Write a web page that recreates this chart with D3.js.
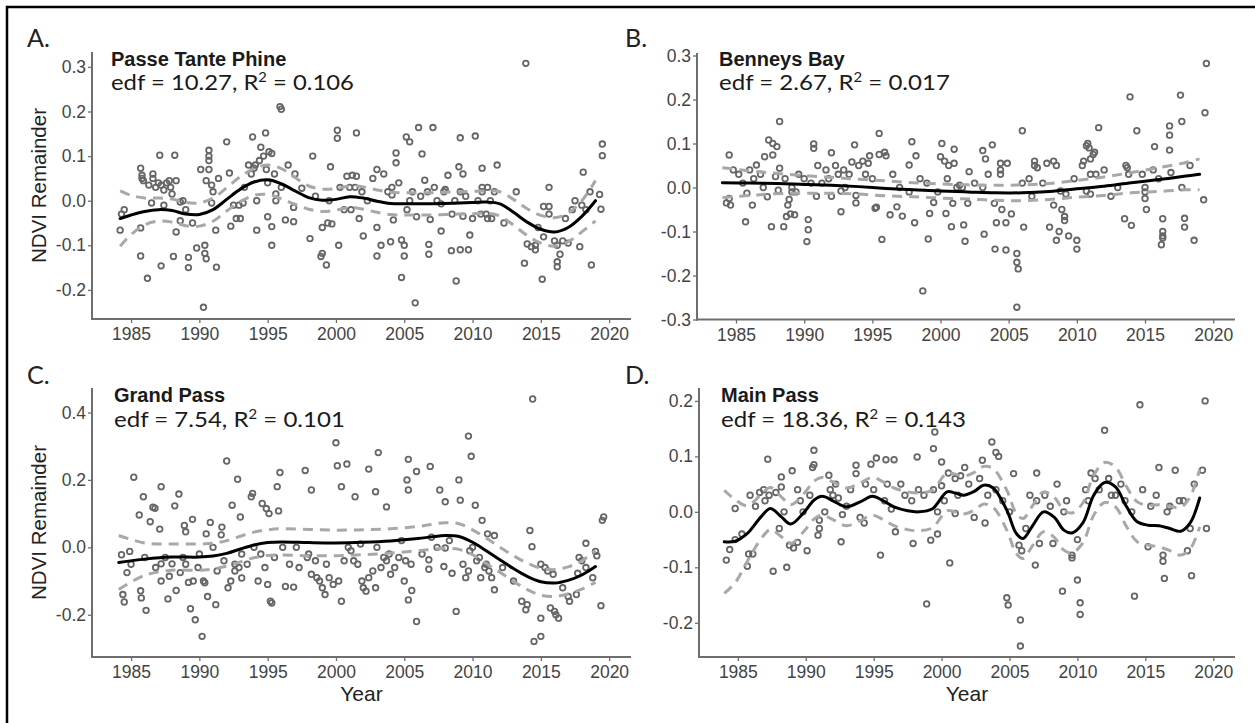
<!DOCTYPE html>
<html>
<head>
<meta charset="utf-8">
<script src="https://cdn.jsdelivr.net/npm/d3@7"></script>
<style>
  html, body { margin: 0; padding: 0; background: #fff; }
  svg { display: block; }
</style>
</head>
<body>
<svg id="chart" width="1255" height="723"></svg>
<script>
// ---------- data ----------
const xTickYears = [1985, 1990, 1995, 2000, 2005, 2010, 2015, 2020];
const panelLetters = ["A.", "B.", "C.", "D."];
const siteNames = ["Passe Tante Phine", "Benneys Bay", "Grand Pass", "Main Pass"];
const edfValues = ["10.27", "2.67", "7.54", "18.36"];
const r2Values = ["0.106", "0.017", "0.101", "0.143"];
const yTicksA = [-0.2, -0.1, 0.0, 0.1, 0.2, 0.3];
const yTicksB = [-0.3, -0.2, -0.1, 0.0, 0.1, 0.2, 0.3];
const yTicksC = [-0.2, 0.0, 0.2, 0.4];
const yTicksD = [-0.2, -0.1, 0.0, 0.1, 0.2];

// Passe Tante Phine: residual NDVI observations [year, value]
const pointsA = [
  [1984.2,-0.066],[1984.5,-0.02],[1984.3,-0.03],[1985.7,0.073],[1985.8,0.057],[1985.7,-0.061],[1985.7,-0.124],
  [1986.2,-0.174],[1985.8,0.05],[1986.6,0.06],[1986.5,-0.005],[1986.6,0.05],[1987.0,0.04],[1987.1,0.102],
  [1987.2,-0.146],[1987.4,-0.01],[1987.4,0.024],[1987.6,0.04],[1987.9,0.03],[1988.1,-0.125],[1988.2,0.102],
  [1988.3,-0.07],[1988.3,0.045],[1988.6,-0.003],[1988.6,-0.045],[1989.2,-0.15],[1989.2,-0.127],[1989.5,-0.05],
  [1989.8,-0.106],[1990.1,0.07],[1990.3,-0.239],[1990.4,-0.1],[1990.4,-0.118],[1990.5,-0.13],[1990.7,0.113],
  [1990.7,0.1],[1990.7,0.09],[1990.7,0.07],[1990.9,-0.005],[1991.2,-0.066],[1991.25,-0.149],[1992.0,0.132],
  [1992.2,0.062],[1992.3,-0.057],[1992.7,-0.04],[1992.9,-0.01],[1993.0,-0.04],[1993.6,0.08],[1993.9,0.143],
  [1994.0,0.073],[1994.2,-0.066],[1994.2,0.0],[1994.5,0.12],[1994.7,0.1],[1994.85,0.152],[1995.0,-0.036],
  [1995.1,0.11],[1995.3,0.106],[1995.3,-0.058],[1995.3,-0.1],[1995.6,0.0],[1995.6,0.015],[1995.9,0.211],
  [1996.0,0.205],[1996.3,-0.043],[1996.5,0.08],[1996.9,-0.047],[1996.9,-0.015],[1997.5,0.028],[1998.1,-0.085],
  [1998.3,0.1],[1998.9,-0.125],[1999.0,-0.118],[1999.3,-0.144],[1999.0,-0.06],[1999.4,-0.05],[1999.6,0.076],
  [1999.7,-0.052],[2000.1,0.158],[2000.1,0.14],[2000.2,-0.1],[2000.6,-0.02],[2000.8,0.055],[2001.0,0.03],
  [2001.1,-0.02],[2001.2,0.057],[2001.5,0.152],[2001.5,0.055],[2001.4,0.03],[2001.7,-0.04],[2002.0,-0.079],
  [2003.0,0.07],[2003.0,-0.06],[2003.0,-0.124],[2003.3,-0.1],[2003.5,0.06],[2004.0,-0.092],[2004.1,0.03],
  [2004.1,0.013],[2004.2,-0.043],[2004.4,0.107],[2004.4,0.085],[2004.8,-0.088],[2004.8,-0.172],[2005.0,-0.1],
  [2005.0,-0.124],[2005.15,0.143],[2005.4,0.132],[2005.4,0.0],[2005.2,-0.02],[2005.8,-0.229],[2005.9,-0.036],
  [2006.05,0.164],[2006.3,0.105],[2006.5,0.046],[2006.8,-0.098],[2006.8,-0.12],[2006.9,-0.042],[2007.1,0.164],
  [2007.2,0.03],[2007.7,-0.007],[2007.7,-0.068],[2008.2,0.057],[2008.0,0.025],[2008.45,-0.112],[2008.5,-0.03],
  [2008.8,-0.18],[2009.0,0.076],[2009.1,0.141],[2009.1,0.02],[2009.1,-0.11],[2009.3,0.06],[2009.3,-0.035],
  [2009.7,-0.11],[2009.8,-0.077],[2010.0,-0.04],[2010.2,0.145],[2010.7,0.073],[2010.7,0.03],[2010.7,0.02],
  [2010.6,-0.03],[2011.0,-0.03],[2011.1,0.03],[2011.1,-0.04],[2011.4,-0.04],[2011.8,0.08],[2013.8,-0.14],
  [2013.9,0.308],[2014.0,-0.097],[2014.3,-0.103],[2014.6,-0.1],[2014.6,-0.11],[2015.1,-0.176],[2015.2,-0.081],
  [2015.2,-0.013],[2015.6,0.03],[2015.6,-0.013],[2015.6,-0.03],[2016.0,-0.09],[2016.2,-0.1],[2016.2,-0.137],
  [2016.2,-0.148],[2016.4,-0.12],[2016.6,-0.09],[2017.0,-0.095],[2017.5,0.0],[2017.85,-0.103],[2018.0,-0.01],
  [2018.1,0.064],[2018.3,-0.02],[2018.7,-0.144],[2019.3,0.014],[2019.4,-0.019],[2019.5,0.127],[2019.5,0.101],
  [1985.9,0.045],[1986.3,0.035],[1986.8,0.03],[1987.2,0.035],[1987.8,0.045],[1988.0,0.015],[1988.8,0.0],
  [1989.0,-0.02],[1990.5,0.045],[1990.9,0.035],[1991.4,0.05],[1991.0,0.02],[1992.5,-0.01],[1993.2,-0.005],
  [1993.3,0.03],[1993.8,0.06],[1994.1,0.08],[1994.4,0.09],[1994.9,0.07],[1995.0,0.04],[1995.5,0.06],
  [1996.0,0.03],[1997.0,0.06],[1998.5,0.01],[1999.5,0.0],[2000.3,0.03],[2001.9,0.02],[2002.3,0.0],
  [2002.7,0.05],[2003.8,0.02],[2004.6,0.04],[2005.6,0.02],[2006.2,0.01],[2006.7,0.02],[2007.4,0.0],
  [2007.9,0.02],[2008.7,0.0],[2009.5,0.01],[2010.4,0.0],[2011.3,0.0],[2011.6,0.02],[2012.3,-0.05],
  [2013.2,0.02],[2014.8,-0.06],[2016.8,-0.04],[2017.3,-0.02],[2018.6,0.02]
];
const fitYearsA = [1984.2,1985,1986,1987,1988,1989,1990,1991,1992,1993,1994,1995,1996,1997,1998,1999,2000,2001,
  2002,2003,2004,2005,2006,2007,2008,2009,2010,2011,2012,2013,2014,2015,2016,2017,2018,2019];
const fitA = [-0.040,-0.032,-0.024,-0.020,-0.022,-0.030,-0.031,-0.020,0.003,0.026,0.042,0.047,0.038,0.022,0.007,
  0.001,0.003,0.009,0.006,-0.001,-0.006,-0.007,-0.007,-0.007,-0.006,-0.005,-0.004,-0.003,-0.007,-0.026,-0.048,
  -0.064,-0.070,-0.060,-0.035,0.000];
const upperA = [0.022,0.012,0.006,0.006,0.004,-0.004,-0.005,0.006,0.029,0.054,0.072,0.08,0.072,0.052,0.033,0.026,
  0.027,0.033,0.031,0.024,0.019,0.018,0.018,0.018,0.019,0.02,0.021,0.022,0.02,0.003,-0.018,-0.033,-0.038,-0.028,
  0.0,0.045];
const lowerA = [-0.102,-0.076,-0.054,-0.046,-0.048,-0.056,-0.057,-0.046,-0.023,-0.002,0.012,0.014,0.004,-0.008,
  -0.019,-0.024,-0.021,-0.015,-0.019,-0.026,-0.031,-0.032,-0.032,-0.032,-0.031,-0.03,-0.029,-0.028,-0.034,-0.055,
  -0.078,-0.095,-0.102,-0.092,-0.07,-0.045];

// Benneys Bay
const pointsB = [
  [1984.5,0.074],[1984.5,-0.025],[1984.6,-0.04],[1984.3,-0.035],[1985.8,-0.013],[1986.2,-0.04],[1985.7,-0.078],
  [1986.0,0.04],[1986.5,0.051],[1987.1,0.07],[1987.3,-0.021],[1987.4,0.108],[1987.6,-0.089],[1987.7,0.074],
  [1987.7,0.1],[1987.9,0.025],[1988.0,0.093],[1988.1,-0.006],[1988.2,0.15],[1988.2,0.044],[1988.5,-0.089],
  [1988.7,-0.066],[1988.8,-0.04],[1988.9,-0.027],[1989.0,-0.06],[1989.1,-0.01],[1989.1,0.0],[1989.4,-0.01],
  [1989.3,-0.062],[1990.3,-0.073],[1990.3,-0.096],[1990.2,-0.123],[1990.7,0.099],[1990.7,0.089],[1990.9,-0.02],
  [1991.0,0.05],[1991.6,0.04],[1992.0,0.079],[1992.0,-0.02],[1992.3,0.05],[1992.7,-0.008],[1992.7,-0.055],
  [1992.9,0.04],[1993.5,0.058],[1993.7,0.097],[1993.8,-0.035],[1993.8,-0.018],[1994.0,0.05],[1994.3,0.06],
  [1994.7,0.055],[1994.8,0.072],[1995.2,-0.047],[1995.3,-0.045],[1995.5,0.123],[1995.5,0.075],[1995.7,-0.118],
  [1995.9,0.08],[1996.0,0.072],[1996.3,-0.062],[1996.8,-0.044],[1997.2,-0.065],[1997.7,0.051],[1997.7,-0.01],
  [1997.9,0.104],[1998.1,-0.08],[1998.2,0.072],[1998.7,-0.235],[1999.1,-0.117],[1999.2,-0.059],[1999.5,-0.034],
  [2000.0,0.07],[2000.1,0.1],[2000.3,0.06],[2000.4,-0.059],[2000.6,0.05],[2000.8,-0.089],[2000.9,-0.036],
  [2001.0,0.087],[2001.0,0.055],[2001.2,0.0],[2001.4,0.005],[2001.6,0.0],[2001.7,-0.085],[2001.8,-0.122],
  [2002.0,-0.036],[2002.1,0.036],[2003.1,0.084],[2003.1,0.0],[2003.2,-0.106],[2003.3,0.065],[2003.8,0.097],
  [2003.95,-0.036],[2004.0,-0.14],[2004.1,-0.08],[2004.4,0.03],[2004.4,0.04],[2004.4,0.055],[2004.5,-0.05],
  [2004.8,-0.08],[2004.9,0.055],[2004.8,-0.142],[2005.2,-0.06],[2005.6,-0.15],[2005.6,-0.17],[2005.7,-0.185],
  [2005.6,-0.272],[2006.0,0.129],[2006.0,0.01],[2006.1,-0.09],[2006.7,-0.02],[2006.9,0.06],[2006.9,0.05],
  [2007.1,0.045],[2007.8,0.055],[2008.0,-0.09],[2008.3,0.06],[2008.3,-0.04],[2008.5,0.05],[2008.5,-0.12],
  [2008.7,-0.1],[2008.8,-0.008],[2008.9,-0.05],[2009.1,-0.066],[2009.1,-0.075],[2009.2,-0.015],[2009.4,-0.11],
  [2010.0,-0.14],[2010.0,-0.12],[2010.4,0.05],[2010.5,0.06],[2010.7,0.095],[2010.7,-0.008],[2010.8,0.1],
  [2010.9,0.09],[2011.0,0.065],[2011.0,0.03],[2011.0,-0.015],[2011.2,0.075],[2011.3,0.08],[2011.4,0.03],
  [2011.6,0.136],[2013.5,-0.071],[2013.6,0.05],[2013.7,0.045],[2013.8,0.03],[2013.9,0.206],[2014.0,-0.086],
  [2014.4,0.129],[2015.0,0.0],[2015.0,-0.01],[2015.0,-0.025],[2015.1,-0.05],[2015.6,0.04],[2015.7,0.093],
  [2016.3,-0.071],[2016.3,-0.1],[2016.3,-0.11],[2016.3,-0.115],[2016.2,-0.13],[2016.8,0.14],[2016.8,0.119],
  [2016.8,0.085],[2016.9,0.034],[2017.6,0.21],[2017.7,0.15],[2017.7,0.0],[2017.9,-0.07],[2017.9,-0.09],
  [2018.6,-0.12],[2019.3,-0.028],[2019.4,0.17],[2019.5,0.282],
  [1984.8,0.04],[1985.2,0.03],[1985.5,0.01],[1986.3,0.02],[1986.8,0.03],[1987.0,0.0],[1988.6,0.02],
  [1989.6,0.03],[1990.0,0.02],[1990.5,0.01],[1991.3,0.01],[1991.8,0.02],[1992.5,0.03],[1993.0,0.0],
  [1993.3,0.03],[1994.5,0.03],[1995.0,0.02],[1996.5,0.03],[1997.0,0.0],[1998.5,0.02],[1999.0,0.01],
  [1999.8,-0.01],[2000.5,0.02],[2002.5,0.01],[2003.5,0.03],[2006.5,0.02],[2007.5,0.01],[2009.8,0.02],
  [2012.0,0.04],[2012.5,-0.02],[2013.0,0.0],[2014.8,0.03],[2016.0,0.02],[2018.3,0.05]
];
const fitYearsB = [1984,1986,1988,1990,1992,1994,1996,1998,2000,2002,2004,2006,2008,2010,2012,2014,2016,2018,2019];
const fitB = [0.011,0.010,0.009,0.007,0.005,0.002,-0.002,-0.005,-0.008,-0.010,-0.012,-0.012,-0.009,-0.003,0.003,
  0.011,0.018,0.026,0.03];
const upperB = [0.045,0.038,0.032,0.027,0.023,0.019,0.015,0.011,0.008,0.006,0.005,0.006,0.009,0.016,0.024,0.034,
  0.045,0.057,0.065];
const lowerB = [-0.023,-0.018,-0.014,-0.013,-0.013,-0.015,-0.019,-0.021,-0.024,-0.026,-0.029,-0.03,-0.027,-0.022,
  -0.018,-0.012,-0.009,-0.005,-0.005];

// Grand Pass
const pointsC = [
  [1984.3,-0.022],[1984.9,-0.012],[1984.4,-0.14],[1984.5,-0.162],[1984.7,-0.075],[1985.2,0.208],[1985.6,0.096],
  [1985.7,-0.129],[1985.75,-0.15],[1986.1,-0.187],[1985.9,0.15],[1986.4,0.076],[1986.6,0.119],[1986.75,0.116],
  [1987.1,0.054],[1987.2,0.18],[1987.2,-0.049],[1987.2,-0.1],[1987.7,-0.153],[1987.8,-0.086],[1988.0,-0.049],
  [1988.2,0.123],[1988.3,-0.128],[1988.5,0.158],[1988.6,-0.075],[1988.9,0.065],[1989.0,0.046],[1989.0,-0.05],
  [1989.2,-0.104],[1989.5,0.083],[1989.55,-0.1],[1989.35,-0.182],[1989.7,-0.215],[1989.9,-0.06],[1990.2,-0.264],
  [1990.3,-0.1],[1990.4,-0.105],[1990.5,0.04],[1990.6,-0.146],[1990.8,0.074],[1991.2,-0.17],[1991.3,-0.07],
  [1991.6,0.037],[1991.65,0.06],[1992.0,0.256],[1992.1,-0.12],[1992.3,-0.1],[1992.4,0.125],[1992.6,-0.07],
  [1992.6,-0.05],[1992.8,0.202],[1993.0,0.09],[1993.1,-0.091],[1993.1,-0.02],[1993.8,0.15],[1993.9,0.16],
  [1994.3,-0.1],[1994.5,-0.02],[1994.6,0.13],[1994.9,0.115],[1995.0,-0.11],[1995.1,0.1],[1995.2,-0.16],
  [1995.3,-0.165],[1995.5,-0.03],[1995.7,0.18],[1995.8,0.108],[1995.9,0.222],[1996.1,0.0],[1996.3,-0.116],
  [1996.9,-0.118],[1997.1,0.0],[1997.75,0.228],[1997.9,-0.03],[1998.2,0.17],[1998.2,-0.08],[1998.5,-0.04],
  [1998.6,-0.09],[1998.8,-0.1],[1999.0,-0.12],[1999.2,-0.14],[1999.5,-0.09],[1999.8,-0.11],[2000.0,0.31],
  [2000.1,0.242],[2000.2,-0.1],[2000.4,0.18],[2000.4,-0.16],[2000.8,0.247],[2000.9,0.0],[2001.1,-0.01],
  [2001.3,-0.04],[2001.4,0.15],[2001.6,-0.05],[2001.9,-0.1],[2002.0,-0.12],[2002.2,-0.13],[2002.4,0.232],
  [2002.4,-0.09],[2002.7,-0.07],[2002.9,0.165],[2002.9,-0.12],[2003.1,0.281],[2003.3,-0.06],[2003.5,-0.03],
  [2003.7,0.12],[2003.7,-0.04],[2004.0,-0.08],[2004.3,-0.06],[2004.6,-0.03],[2005.0,-0.1],[2005.1,-0.04],
  [2005.2,0.2],[2005.3,0.261],[2005.3,0.17],[2005.3,-0.156],[2005.5,-0.05],[2005.55,-0.128],[2005.9,0.225],
  [2005.9,-0.22],[2006.8,-0.037],[2006.8,-0.065],[2006.9,0.24],[2007.4,0.0],[2007.6,0.17],[2007.9,-0.057],
  [2008.0,-0.002],[2008.0,0.135],[2008.5,-0.077],[2008.8,-0.19],[2009.0,0.2],[2009.1,0.14],[2009.3,-0.05],
  [2009.5,-0.09],[2009.7,0.33],[2009.7,-0.07],[2009.8,-0.01],[2009.9,0.27],[2010.0,0.0],[2010.2,0.125],
  [2010.5,-0.03],[2010.6,-0.09],[2010.7,0.08],[2010.9,-0.06],[2011.0,-0.05],[2011.1,0.04],[2011.2,-0.07],
  [2011.4,-0.09],[2011.6,-0.126],[2011.6,0.035],[2013.6,-0.16],[2013.9,-0.185],[2014.0,-0.17],[2014.2,0.05],
  [2014.35,0.002],[2014.4,0.44],[2014.5,-0.279],[2015.0,-0.264],[2015.0,-0.05],[2015.0,-0.21],[2015.3,-0.06],
  [2015.5,-0.07],[2015.7,-0.18],[2015.9,-0.08],[2016.0,-0.19],[2016.1,-0.2],[2016.3,-0.21],[2017.0,-0.146],
  [2017.1,-0.16],[2017.6,-0.14],[2017.7,-0.077],[2017.8,-0.03],[2018.0,-0.04],[2018.3,-0.06],[2018.3,0.012],
  [2019.0,-0.012],[2019.1,-0.025],[2019.4,-0.173],[2019.5,0.08],[2019.6,0.09],
  [1985.0,-0.05],[1986.0,-0.03],[1986.8,-0.06],[1987.5,-0.03],[1988.8,-0.03],[1990.0,-0.02],[1991.0,0.0],
  [1991.8,-0.04],[1992.9,-0.06],[1993.5,-0.05],[1994.0,0.0],[1994.8,-0.06],[1996.6,-0.05],[1997.3,-0.06],
  [1998.0,-0.02],[1999.3,-0.05],[2000.6,-0.04],[2001.8,0.01],[2003.0,0.0],[2003.9,-0.02],[2004.8,0.02],
  [2006.3,-0.02],[2007.0,0.03],[2008.3,0.02],[2010.3,-0.04],[2012.2,-0.06],[2013.0,-0.1],[2016.6,-0.12],
  [2018.8,-0.09]
];
const fitYearsC = [1984.1,1986,1988,1990,1991,1992,1993,1994,1995,1996,1998,2000,2002,2004,2006,2007,2008,2009,
  2010,2011,2012,2013,2014,2015,2016,2017,2018,2019];
const fitC = [-0.045,-0.035,-0.029,-0.029,-0.026,-0.018,-0.005,0.007,0.014,0.016,0.014,0.013,0.015,0.019,0.026,
  0.031,0.035,0.032,0.015,-0.01,-0.037,-0.063,-0.086,-0.102,-0.106,-0.098,-0.082,-0.057];
const upperC = [0.035,0.013,0.01,0.01,0.012,0.02,0.033,0.045,0.052,0.055,0.053,0.051,0.052,0.055,0.062,0.068,
  0.073,0.07,0.052,0.028,0.0,-0.025,-0.047,-0.062,-0.066,-0.058,-0.04,-0.01];
const lowerC = [-0.125,-0.083,-0.068,-0.068,-0.064,-0.056,-0.043,-0.031,-0.024,-0.023,-0.025,-0.025,-0.022,-0.017,
  -0.01,-0.006,-0.003,-0.006,-0.022,-0.048,-0.074,-0.101,-0.125,-0.142,-0.146,-0.138,-0.124,-0.104];

// Main Pass
const pointsD = [
  [1984.15,-0.087],[1984.4,-0.068],[1984.8,0.006],[1984.8,-0.05],[1985.7,-0.098],[1985.8,-0.076],[1986.1,-0.076],
  [1985.9,0.03],[1986.6,0.035],[1986.9,0.04],[1987.2,0.095],[1987.3,0.03],[1987.6,-0.107],[1987.8,0.035],
  [1988.05,-0.03],[1988.2,0.063],[1988.2,0.045],[1988.6,-0.1],[1988.8,-0.06],[1989.0,0.074],[1989.1,-0.065],
  [1989.4,-0.055],[1989.4,0.04],[1989.8,0.0],[1990.1,-0.07],[1990.5,0.08],[1990.6,0.111],[1990.6,0.085],
  [1990.9,-0.042],[1991.0,-0.015],[1991.0,-0.03],[1991.4,0.0],[1991.7,0.066],[1992.0,0.03],[1992.4,0.025],
  [1992.6,-0.054],[1992.7,-0.005],[1993.0,0.01],[1993.7,0.084],[1993.7,0.069],[1994.0,-0.01],[1994.3,-0.02],
  [1994.8,0.086],[1995.2,0.097],[1995.5,-0.078],[1995.8,0.02],[1995.9,0.094],[1996.3,0.005],[1996.5,0.094],
  [1996.6,-0.036],[1997.3,0.03],[1997.9,-0.057],[1998.2,0.099],[1998.3,0.04],[1998.9,-0.166],[1999.2,-0.051],
  [1999.4,0.114],[1999.4,0.04],[1999.5,0.144],[1999.7,0.0],[1999.7,-0.04],[2000.0,0.09],[2000.0,0.047],
  [2000.5,0.07],[2000.6,-0.092],[2001.0,0.06],[2001.0,-0.003],[2001.4,0.065],[2001.7,0.08],[2002.4,-0.01],
  [2003.0,0.093],[2003.2,-0.02],[2003.7,0.126],[2004.0,0.04],[2004.0,0.107],[2004.2,0.1],[2004.8,-0.155],
  [2004.9,-0.168],[2005.3,0.069],[2005.7,-0.06],[2005.8,-0.195],[2005.8,-0.242],[2005.9,-0.07],[2006.5,0.03],
  [2006.9,-0.096],[2007.0,0.07],[2007.2,-0.057],[2007.6,0.03],[2008.2,-0.057],[2008.5,0.05],[2008.9,-0.143],
  [2009.2,0.02],[2009.6,-0.078],[2009.6,-0.083],[2010.0,-0.05],[2010.0,-0.123],[2010.2,-0.164],[2010.2,-0.185],
  [2010.6,0.04],[2011.0,0.07],[2011.3,0.06],[2012.0,0.147],[2012.3,0.06],[2012.8,0.03],[2013.5,0.02],
  [2014.2,-0.152],[2014.6,0.193],[2014.8,0.04],[2015.2,-0.063],[2015.4,0.01],[2016.0,0.08],[2016.3,-0.078],
  [2016.3,-0.089],[2016.4,-0.12],[2016.6,0.0],[2017.2,0.075],[2017.5,0.02],[2018.1,-0.07],[2018.4,-0.115],
  [2018.6,0.05],[2019.2,0.075],[2019.4,0.2],[2019.5,-0.03],
  [1985.3,-0.04],[1986.3,0.01],[1987.0,0.02],[1988.4,0.0],[1989.6,0.02],[1990.3,0.03],[1991.8,0.04],
  [1992.2,0.05],[1993.3,0.04],[1994.4,0.05],[1995.0,0.04],[1996.0,0.05],[1997.0,0.05],[1997.8,0.02],
  [1998.7,0.03],[2000.2,0.02],[2001.2,0.03],[2002.0,0.05],[2002.8,0.06],[2003.4,0.03],[2004.5,0.02],
  [2005.0,0.0],[2006.2,-0.03],[2007.0,0.02],[2008.0,0.01],[2009.0,0.0],[2010.8,0.02],[2011.6,0.04],
  [2012.5,0.03],[2013.2,0.05],[2014.0,0.0],[2015.8,0.03],[2016.8,0.01],[2017.8,0.02],[2018.3,-0.03]
];
const fitYearsD = [1984.0,1984.8,1985.7,1986.7,1987.4,1988.2,1988.9,1989.9,1990.6,1991.2,1992.0,1993.0,1994.0,
  1994.9,1995.7,1996.5,1997.5,1998.3,1999.3,2000.4,2001.0,2001.6,2002.4,2003.1,2003.8,2004.8,2005.5,2006.0,2006.7,
  2007.5,2008.3,2009.0,2009.6,2010.4,2011.2,2012.0,2012.8,2013.6,2014.4,2015.2,2016.0,2016.8,2017.6,2018.3,2019.0];
const fitD = [-0.054,-0.053,-0.039,-0.009,0.006,-0.009,-0.022,0.0,0.021,0.028,0.02,0.009,0.018,0.028,0.02,0.009,
  0.002,0.0,0.005,0.036,0.034,0.03,0.037,0.048,0.043,0.003,-0.039,-0.048,-0.025,0.0,-0.01,-0.033,-0.038,-0.02,0.03,
  0.053,0.045,0.01,-0.018,-0.024,-0.025,-0.03,-0.035,-0.02,0.025];
const upperD = [0.039,0.022,0.011,0.031,0.044,0.027,0.013,0.034,0.055,0.062,0.054,0.043,0.052,0.062,0.054,0.043,
  0.036,0.034,0.039,0.07,0.068,0.064,0.071,0.082,0.078,0.039,-0.003,-0.012,0.011,0.036,0.026,0.003,-0.002,0.016,
  0.066,0.089,0.081,0.046,0.018,0.012,0.013,0.01,0.008,0.027,0.077];
const lowerD = [-0.147,-0.128,-0.089,-0.049,-0.032,-0.045,-0.057,-0.034,-0.013,-0.006,-0.014,-0.025,-0.016,-0.006,
  -0.014,-0.025,-0.032,-0.034,-0.029,0.002,0.0,-0.004,0.003,0.014,0.008,-0.033,-0.075,-0.084,-0.061,-0.036,-0.046,
  -0.069,-0.074,-0.056,-0.006,0.017,0.009,-0.026,-0.054,-0.06,-0.063,-0.07,-0.078,-0.067,-0.027];

// ---------- layout ----------
const panels = [
  { points: pointsA, years: fitYearsA, fit: fitA, upper: upperA, lower: lowerA, ticks: yTicksA,
    left: 92, right: 631, top: 52, bottom: 319, yDomain: [-0.2652, 0.3334],
    letterX: 27, letterY: 47, titleX: 111, titleY: 66, edfY: 90, edfWidth: 243, yLabel: true, xLabel: false },
  { points: pointsB, years: fitYearsB, fit: fitB, upper: upperB, lower: lowerB, ticks: yTicksB,
    left: 697, right: 1235, top: 53, bottom: 319.5, yDomain: [-0.300, 0.3057],
    letterX: 625, letterY: 47, titleX: 719, titleY: 66, edfY: 90, edfWidth: 231, yLabel: false, xLabel: false },
  { points: pointsC, years: fitYearsC, fit: fitC, upper: upperC, lower: lowerC, ticks: yTicksC,
    left: 92, right: 631, top: 388, bottom: 657, yDomain: [-0.3253, 0.4726],
    letterX: 27, letterY: 384, titleX: 114, titleY: 402, edfY: 427, edfWidth: 231, yLabel: true, xLabel: true },
  { points: pointsD, years: fitYearsD, fit: fitD, upper: upperD, lower: lowerD, ticks: yTicksD,
    left: 699, right: 1235, top: 388, bottom: 657, yDomain: [-0.2617, 0.2233],
    letterX: 625, letterY: 384, titleX: 721, titleY: 402, edfY: 427, edfWidth: 245, yLabel: false, xLabel: true }
];
const xDomain = [1982.14, 2021.6];

const svg = d3.select("#chart");
svg.append("rect").attr("width", 1255).attr("height", 723).attr("fill", "#fff");

// outer frame (top and left edges are visible)
svg.append("path")
  .attr("d", "M7,723 L7,7 L1255,7")
  .attr("fill", "none").attr("stroke", "#000").attr("stroke-width", 2.5);

const axisColor = "#6e6e6e";
const tickTextColor = "#444";
const sansFont = "Arial, 'Liberation Sans', Helvetica, sans-serif";
const noteFont = "Lato, Carlito, 'Open Sans', sans-serif";

panels.forEach((p, i) => {
  const x = d3.scaleLinear().domain(xDomain).range([p.left, p.right]);
  const y = d3.scaleLinear().domain(p.yDomain).range([p.bottom, p.top]);
  const g = svg.append("g");

  // axes
  const xAxis = d3.axisBottom(x).tickValues(xTickYears).tickFormat(d3.format("d"))
    .tickSize(4).tickPadding(5);
  const yAxis = d3.axisLeft(y).tickValues(p.ticks).tickFormat(d => d3.format(".1f")(d).replace("\u2212", "-"))
    .tickSize(4).tickPadding(2);

  const gx = g.append("g").attr("transform", `translate(0,${p.bottom})`).call(xAxis);
  const gy = g.append("g").attr("transform", `translate(${p.left},0)`).call(yAxis);
  [gx, gy].forEach(ax => {
    ax.attr("font-family", null).attr("font-size", null);
    ax.select(".domain").remove();
    ax.selectAll(".tick line").attr("stroke", axisColor).attr("stroke-width", 1.3);
    ax.selectAll(".tick text")
      .attr("fill", tickTextColor)
      .style("font-family", sansFont)
      .style("font-size", "17.5px");
  });
  // axis lines
  g.append("line").attr("x1", p.left).attr("x2", p.left).attr("y1", p.top).attr("y2", p.bottom + 1)
    .attr("stroke", axisColor).attr("stroke-width", 2);
  g.append("line").attr("x1", p.left - 1).attr("x2", p.right).attr("y1", p.bottom).attr("y2", p.bottom)
    .attr("stroke", axisColor).attr("stroke-width", 2);

  // observations
  g.append("g").selectAll("circle").data(p.points).join("circle")
    .attr("cx", d => x(d[0])).attr("cy", d => y(d[1])).attr("r", 2.8)
    .attr("fill", "none").attr("stroke", "#666").attr("stroke-width", 1.8);

  // confidence band (dashed) and fitted smooth
  const curve = d3.curveCatmullRom.alpha(0.5);
  const line = vals => d3.line().curve(curve)
    .x((d, k) => x(p.years[k])).y(d => y(d))(vals);
  [p.upper, p.lower].forEach(band => {
    g.append("path").attr("d", line(band)).attr("fill", "none")
      .attr("stroke", "#a8a8a8").attr("stroke-width", 3)
      .attr("stroke-dasharray", "10,7");
  });
  g.append("path").attr("d", line(p.fit)).attr("fill", "none")
    .attr("stroke", "#000").attr("stroke-width", 3).attr("stroke-linecap", "round");

  // panel letter
  svg.append("text").attr("x", p.letterX).attr("y", p.letterY).text(panelLetters[i])
    .style("font-family", noteFont).style("font-size", "25px").attr("fill", "#222");

  // site title and model summary
  svg.append("text").attr("x", p.titleX).attr("y", p.titleY).text(siteNames[i])
    .style("font-family", sansFont).style("font-weight", "bold")
    .style("font-size", "20px").attr("fill", "#1a1a1a");
  const t = svg.append("text")
    .style("font-family", noteFont).style("font-size", "21px").attr("fill", "#1a1a1a");
  t.append("tspan").text(`edf = ${edfValues[i]}, R`);
  t.append("tspan").text("2").attr("dy", -8).style("font-size", "13px");
  t.append("tspan").text(` = ${r2Values[i]}`).attr("dy", 8);
  // widen the annotation to its printed width
  const w = t.node().getComputedTextLength();
  t.attr("transform", `translate(${p.titleX},${p.edfY}) scale(${p.edfWidth / w},1)`);

  // axis titles
  if (p.yLabel) {
    svg.append("text")
      .attr("transform", `translate(46,${(p.top + p.bottom) / 2}) rotate(-90)`)
      .attr("text-anchor", "middle").text("NDVI Remainder")
      .style("font-family", sansFont).style("font-size", "20.5px")
      .attr("fill", "#222");
  }
  if (p.xLabel) {
    svg.append("text").attr("x", (p.left + p.right) / 2).attr("y", 701)
      .attr("text-anchor", "middle").text("Year")
      .style("font-family", sansFont).style("font-size", "21px")
      .attr("fill", "#222");
  }
});
</script>
</body>
</html>
